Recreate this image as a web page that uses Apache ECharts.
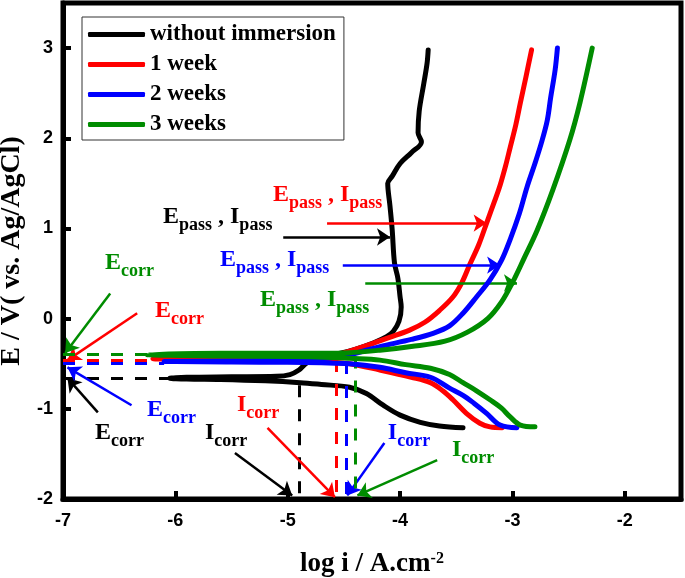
<!DOCTYPE html>
<html><head><meta charset="utf-8">
<script src="https://cdn.jsdelivr.net/npm/echarts@6/dist/echarts.min.js"></script>
<style>html,body{margin:0;padding:0;background:#fff}#c{width:685px;height:578px}</style>
</head><body><div id="c"></div>
<script>
// ---------- data ----------
const seriesNames = ['without immersion', '1 week', '2 weeks', '3 weeks'];
const seriesColors = ['#000000', '#ff0000', '#0000ff', '#008c00'];
const xTickLabels = ['-7', '-6', '-5', '-4', '-3', '-2'];
const yTickLabels = ['-2', '-1', '0', '1', '2', '3'];

// [log i, E] — cathodic branch (from its far end to the tip) then anodic branch
const blackCurve = [
  [-3.44,-1.21],[-3.65,-1.19],[-3.82,-1.15],[-4.0,-1.07],[-4.15,-0.96],[-4.3,-0.83],[-4.45,-0.76],
  [-4.7,-0.73],[-4.89,-0.71],[-5.2,-0.69],[-5.6,-0.675],[-5.9,-0.67],[-6.05,-0.66],
  [-5.9,-0.65],[-5.5,-0.645],[-5.1,-0.64],[-4.98,-0.62],[-4.9,-0.57],[-4.83,-0.49],[-4.72,-0.43],
  [-4.55,-0.39],[-4.4,-0.34],[-4.24,-0.27],[-4.12,-0.2],[-4.06,-0.14],[-4.01,-0.03],[-3.99,0.13],
  [-4.0,0.24],[-4.02,0.45],[-4.05,0.62],[-4.07,0.98],[-4.09,1.25],[-4.11,1.50],[-4.07,1.58],
  [-4.0,1.72],[-3.9,1.84],[-3.81,1.96],[-3.84,2.06],[-3.83,2.3],[-3.79,2.6],[-3.76,2.83],[-3.75,2.98]
];
const redCurve = [
  [-3.09,-1.21],[-3.2,-1.20],[-3.29,-1.16],[-3.41,-1.05],[-3.53,-0.90],[-3.62,-0.80],[-3.73,-0.71],
  [-3.9,-0.65],[-4.18,-0.57],[-4.45,-0.50],[-4.7,-0.475],[-5.0,-0.46],[-5.5,-0.455],[-6.0,-0.45],[-6.2,-0.445],
  [-6.0,-0.44],[-5.5,-0.44],[-5.0,-0.435],[-4.8,-0.43],[-4.6,-0.41],[-4.45,-0.36],[-4.3,-0.30],
  [-4.1,-0.21],[-3.92,-0.13],[-3.78,-0.04],[-3.65,0.09],[-3.53,0.24],[-3.45,0.40],[-3.38,0.60],
  [-3.3,0.82],[-3.23,1.06],[-3.16,1.30],[-3.11,1.48],[-3.06,1.70],[-3.02,1.90],[-2.97,2.15],
  [-2.93,2.39],[-2.88,2.68],[-2.83,2.98]
];
const blueCurve = [
  [-2.96,-1.21],[-3.11,-1.18],[-3.23,-1.05],[-3.34,-0.94],[-3.44,-0.85],[-3.56,-0.77],[-3.73,-0.65],
  [-3.95,-0.60],[-4.18,-0.54],[-4.45,-0.50],[-4.7,-0.49],[-5.0,-0.485],[-5.5,-0.48],[-6.1,-0.475],
  [-5.5,-0.47],[-5.0,-0.46],[-4.8,-0.44],[-4.6,-0.43],[-4.45,-0.40],[-4.18,-0.31],[-3.9,-0.23],
  [-3.7,-0.16],[-3.56,-0.08],[-3.44,0.06],[-3.32,0.24],[-3.2,0.43],[-3.1,0.64],[-3.02,0.88],
  [-2.94,1.16],[-2.87,1.46],[-2.8,1.72],[-2.74,1.96],[-2.69,2.2],[-2.66,2.45],[-2.62,2.76],[-2.60,3.0]
];
const greenCurve = [
  [-2.8,-1.20],[-2.93,-1.18],[-3.02,-1.09],[-3.1,-0.99],[-3.2,-0.90],[-3.32,-0.80],[-3.44,-0.71],
  [-3.56,-0.62],[-3.73,-0.55],[-3.95,-0.51],[-4.18,-0.46],[-4.45,-0.44],[-4.6,-0.43],[-5.0,-0.42],
  [-5.6,-0.415],[-6.25,-0.40],
  [-5.6,-0.385],[-5.0,-0.385],[-4.8,-0.385],[-4.5,-0.38],[-4.18,-0.35],[-3.9,-0.31],[-3.6,-0.25],
  [-3.4,-0.15],[-3.22,0.0],[-3.1,0.18],[-3.0,0.40],[-2.9,0.66],[-2.78,0.98],[-2.64,1.43],
  [-2.49,1.98],[-2.40,2.39],[-2.29,3.0]
];
const curves = [blackCurve, redCurve, blueCurve, greenCurve];

// annotation values, order: black, red, blue, green
const ecorrE = [-0.66, -0.46, -0.50, -0.39];
const ecorrLineEnd = [-6.05, -6.2, -6.1, -6.25];
const icorrLogI = [-4.90, -4.57, -4.48, -4.40];
const icorrLineTop = [-0.74, -0.46, -0.48, -0.42];
const passE = [0.905, 1.06, 0.594, 0.395];
const passArrowFrom = [-5.04, -4.65, -4.51, -4.31];
const passArrowTo = [-4.09, -3.23, -3.11, -2.96];
const ecorrArrows = [
  [[-6.69,-1.04],[-6.96,-0.66]], [[-6.34,0.06],[-6.96,-0.46]],
  [[-6.39,-0.96],[-6.96,-0.54]], [[-6.58,0.28],[-6.98,-0.38]]
];
const icorrArrows = [
  [[-5.47,-1.49],[-4.96,-1.96]], [[-5.18,-1.21],[-4.58,-1.98]],
  [[-4.14,-1.38],[-4.47,-1.96]], [[-3.67,-1.57],[-4.38,-1.96]]
];
const ecorrLabelPos = [[-6.715,-1.135],[-6.181,0.217],[-6.253,-0.880],[-6.626,0.749]];
const icorrLabelPos = [[-5.737,-1.135],[-5.452,-0.825],[-4.109,-1.135],[-3.539,-1.324]];
const passLabelPos = [[-6.110,1.259],[-5.132,1.503],[-5.603,0.783],[-5.247,0.339]];

// ---------- chart ----------
const SERIF = '"Liberation Serif","Times New Roman",serif';
const SANS = '"Liberation Sans",Arial,sans-serif';
const chart = echarts.init(document.getElementById('c'), null, {renderer: 'canvas'});

function richFor(color) {
  return {
    b: {fontFamily: SERIF, fontWeight: 'bold', fontSize: 24, lineHeight: 24, color: color, verticalAlign: 'top'},
    s: {fontFamily: SERIF, fontWeight: 'bold', fontSize: 18, lineHeight: 20, color: color, verticalAlign: 'top', padding: [11, 0, 0, 0]}
  };
}

const series = [];
curves.forEach((c, i) => {
  series.push({
    name: seriesNames[i], type: 'line', data: c, showSymbol: false, symbol: 'none',
    smooth: 0.35, clip: true, z: 3 + i,
    lineStyle: {color: seriesColors[i], width: 5, cap: 'round', join: 'round'},
    itemStyle: {color: seriesColors[i]}
  });
});
seriesColors.forEach((col, i) => {
  // dashed Ecorr / Icorr guide lines
  series.push({
    name: 'dash' + i, type: 'line', data: [], z: 2,
    markLine: {
      silent: true, animation: false, symbol: ['none', 'none'], label: {show: false},
      lineStyle: {color: col, width: 3, type: [12, 12]},
      emphasis: {disabled: true},
      data: [
        [{coord: [-7, ecorrE[i]]}, {coord: [ecorrLineEnd[i], ecorrE[i]]}],
        [{coord: [icorrLogI[i], icorrLineTop[i]]}, {coord: [icorrLogI[i], -2]}]
      ]
    }
  });
  // arrows + labels
  series.push({
    name: 'ann' + i, type: 'scatter', z: 10, symbolSize: 0.01,
    itemStyle: {color: 'rgba(0,0,0,0)', opacity: 1},
    data: [
      {name: '{b|E}{s|corr}', value: ecorrLabelPos[i]},
      {name: '{b|I}{s|corr}', value: icorrLabelPos[i]},
      {name: '{b|E}{s|pass}{b| , I}{s|pass}', value: passLabelPos[i]}
    ],
    label: {show: true, opacity: 1, position: [0, 0], formatter: p => p.name, rich: richFor(col)},
    markLine: {
      silent: true, animation: false, symbol: ['none', 'arrow'], symbolSize: 13,
      label: {show: false}, emphasis: {disabled: true},
      lineStyle: {color: col, width: 2.5, type: 'solid', opacity: 1},
      data: [
        [{coord: ecorrArrows[i][0]}, {coord: ecorrArrows[i][1]}],
        [{coord: icorrArrows[i][0]}, {coord: icorrArrows[i][1]}],
        [{coord: [passArrowFrom[i], passE[i]]}, {coord: [passArrowTo[i], passE[i]]}]
      ]
    }
  });
});

const intLabel = v => (Math.abs(v - Math.round(v)) < 1e-9 ? String(Math.round(v)) : '');

chart.setOption({
  animation: false,
  backgroundColor: '#ffffff',
  grid: {left: 63, right: 4, top: 3, bottom: 79, show: true, borderColor: '#000', borderWidth: 5,
    containLabel: false, outerBoundsMode: 'none'},
  legend: {
    data: seriesNames, orient: 'vertical', left: 82, top: 17,
    padding: [6, 8, 4, 6], itemGap: 7, itemWidth: 57, itemHeight: 5, icon: 'roundRect',
    borderColor: '#333', borderWidth: 1, backgroundColor: '#fff',
    textStyle: {fontFamily: SERIF, fontWeight: 'bold', fontSize: 23, color: '#000'}
  },
  xAxis: {
    type: 'value', min: -7, max: -1.5, interval: 1,
    name: '{t|log i / A.cm}{sup|-2}', nameLocation: 'middle', nameGap: 52,
    nameTextStyle: {rich: {
      t: {fontFamily: SERIF, fontWeight: 'bold', fontSize: 27, lineHeight: 28, color: '#000', verticalAlign: 'top'},
      sup: {fontFamily: SERIF, fontWeight: 'bold', fontSize: 16, lineHeight: 16, color: '#000', verticalAlign: 'top'}
    }},
    axisLine: {onZero: false, lineStyle: {color: '#000', width: 5}},
    axisTick: {inside: true, length: 8, lineStyle: {color: '#000', width: 4}},
    axisLabel: {margin: 13, color: '#000', fontFamily: SANS, fontWeight: 'bold', fontSize: 18,
      showMaxLabel: false, formatter: v => { const s = intLabel(v); return xTickLabels.includes(s) ? s : ''; }},
    splitLine: {show: false}
  },
  yAxis: {
    type: 'value', min: -2, max: 3.5, interval: 1,
    name: 'E / V( vs. Ag/AgCl)', nameLocation: 'middle', nameGap: 36, nameRotate: 90,
    nameTextStyle: {fontFamily: SERIF, fontWeight: 'bold', fontSize: 28, color: '#000'},
    axisLine: {onZero: false, lineStyle: {color: '#000', width: 5}},
    axisTick: {inside: true, length: 8, lineStyle: {color: '#000', width: 4}},
    axisLabel: {margin: 10, color: '#000', fontFamily: SANS, fontWeight: 'bold', fontSize: 18,
      showMaxLabel: false, formatter: v => { const s = intLabel(v); return yTickLabels.includes(s) ? s : ''; }},
    splitLine: {show: false}
  },
  series: series
});
</script>
</body></html>
